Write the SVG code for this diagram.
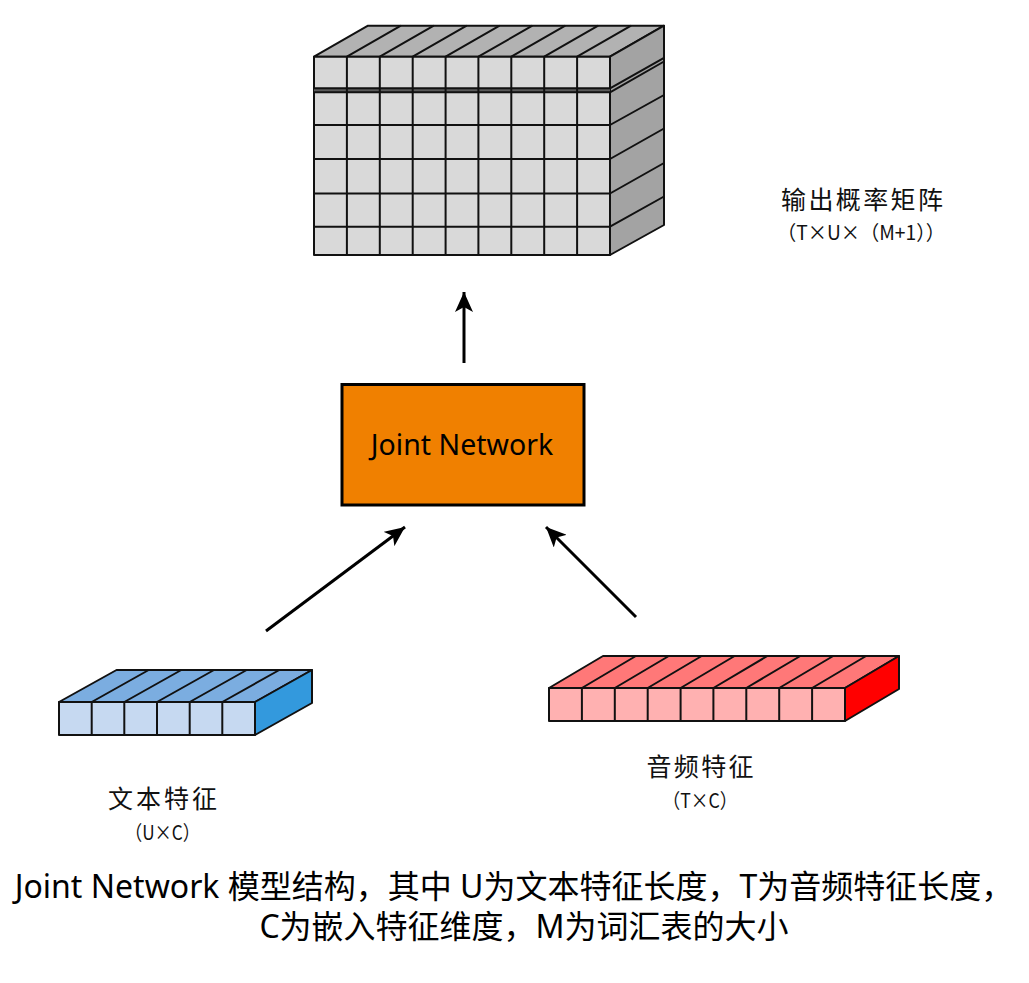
<svg xmlns="http://www.w3.org/2000/svg" width="1029" height="983" viewBox="0 0 1029 983">
<defs>
<marker id="ah" markerUnits="userSpaceOnUse" markerWidth="22" markerHeight="18" refX="20" refY="9" orient="auto">
<path d="M0,0 L20,9 L0,18 L5,9 Z" fill="#000"/>
</marker>
</defs>
<style>
.e{stroke:#111;stroke-width:2;stroke-linejoin:round}
.cf{fill:#D9D9D9}.ct{fill:#B2B2B2}.cs{fill:#A3A3A3}
.bf{fill:#C6D9F1}.bt{fill:#7BADE0}.bs{fill:#3399DD}
.rf{fill:#FFB1B1}.rt{fill:#FF7878}.rs{fill:#FF0000}
.ln{stroke:#111;stroke-width:2;fill:none}
.con{stroke:#000;stroke-width:3;fill:none}
.lbl{font-family:"Noto Sans CJK SC","Liberation Serif",serif;fill:#111}
.cap{font-family:"Noto Sans","Noto Sans CJK SC",sans-serif;font-size:32px;fill:#000}
</style>
<rect width="1029" height="983" fill="#fff"/>

<g id="output-matrix">
<polygon class="ct e" points="314,56.7 368,25.7 664,25.7 610,56.7"/>
<polygon class="cs e" points="610,56.7 664,25.7 664,225 610,255"/>
<rect class="cf e" x="314" y="56.7" width="296" height="198.3"/>
<rect x="314" y="88.3" width="296" height="4" fill="#5a5a5a"/>
<path class="ln" d="M346.9,56.7 L400.9,25.7 M379.8,56.7 L433.8,25.7 M412.7,56.7 L466.7,25.7 M445.6,56.7 L499.6,25.7 M478.4,56.7 L532.4,25.7 M511.3,56.7 L565.3,25.7 M544.2,56.7 L598.2,25.7 M577.1,56.7 L631.1,25.7"/>
<path class="ln" d="M346.9,56.7 V255 M379.8,56.7 V255 M412.7,56.7 V255 M445.6,56.7 V255 M478.4,56.7 V255 M511.3,56.7 V255 M544.2,56.7 V255 M577.1,56.7 V255"/>
<path class="ln" d="M314,88.3 H610 M314,92.3 H610 M314,125 H610 M314,159 H610 M314,193.5 H610 M314,226.7 H610"/>
<path class="ln" d="M610,88.3 L664,57.8 M610,92.3 L664,61.5 M610,125 L664,95 M610,159 L664,128.5 M610,193.5 L664,163 M610,226.7 L664,196.5"/>
</g>

<g id="output-label">
<text class="lbl" x="862" y="209" font-size="25" text-anchor="middle" textLength="162" lengthAdjust="spacing">输出概率矩阵</text>
<text class="lbl" x="861" y="240" font-size="20" text-anchor="middle" textLength="168" lengthAdjust="spacingAndGlyphs">（T×U×（M+1））</text>
</g>

<g id="joint-network">
<rect x="342" y="384.5" width="242" height="120.5" fill="#F08000" stroke="#000" stroke-width="3"/>
<text x="462" y="455" font-family="'Noto Sans','Open Sans',sans-serif" font-size="28.5" text-anchor="middle" fill="#000">Joint Network</text>
</g>

<g id="text-features">
<polygon class="bt e" points="59,702 116.5,670 312,670 255,702"/>
<polygon class="bs e" points="255,702 312,670 312,703 255,735"/>
<rect class="bf e" x="59" y="702" width="196" height="33"/>
<path class="ln" d="M91.7,702 L148.7,670 M124.3,702 L181.3,670 M157,702 L214,670 M189.7,702 L246.7,670 M222.3,702 L279.3,670"/>
<path class="ln" d="M91.7,702 V735 M124.3,702 V735 M157,702 V735 M189.7,702 V735 M222.3,702 V735"/>
</g>
<g id="text-label">
<text class="lbl" x="162.5" y="808" font-size="25" text-anchor="middle" textLength="109" lengthAdjust="spacing">文本特征</text>
<text class="lbl" x="162.5" y="840" font-size="20" text-anchor="middle" textLength="75" lengthAdjust="spacingAndGlyphs">（U×C）</text>
</g>

<g id="audio-features">
<polygon class="rt e" points="549,688 603,656 899,656 845,688"/>
<polygon class="rs e" points="845,688 899,656 899,689 845,721"/>
<rect class="rf e" x="549" y="688" width="296" height="33"/>
<path class="ln" d="M581.9,688 L635.9,656 M614.8,688 L668.8,656 M647.7,688 L701.7,656 M680.6,688 L734.6,656 M713.4,688 L767.4,656 M746.3,688 L800.3,656 M779.2,688 L833.2,656 M812.1,688 L866.1,656"/>
<path class="ln" d="M581.9,688 V721 M614.8,688 V721 M647.7,688 V721 M680.6,688 V721 M713.4,688 V721 M746.3,688 V721 M779.2,688 V721 M812.1,688 V721"/>
</g>
<g id="audio-label">
<text class="lbl" x="700" y="776" font-size="25" text-anchor="middle" textLength="107" lengthAdjust="spacing">音频特征</text>
<text class="lbl" x="700" y="808" font-size="20" text-anchor="middle" textLength="75" lengthAdjust="spacingAndGlyphs">（T×C）</text>
</g>

<g id="connectors">
<line class="con" x1="464" y1="363" x2="464" y2="292" marker-end="url(#ah)"/>
<line class="con" x1="266" y1="631" x2="405" y2="527" marker-end="url(#ah)"/>
<line class="con" x1="636" y1="617" x2="546" y2="527" marker-end="url(#ah)"/>
</g>

<g id="caption">
<text class="cap" x="514" y="898" text-anchor="middle">Joint Network 模型结构，其中 U为文本特征长度，T为音频特征长度，</text>
<text class="cap" x="524" y="938" text-anchor="middle">C为嵌入特征维度，M为词汇表的大小</text>
</g>
</svg>
